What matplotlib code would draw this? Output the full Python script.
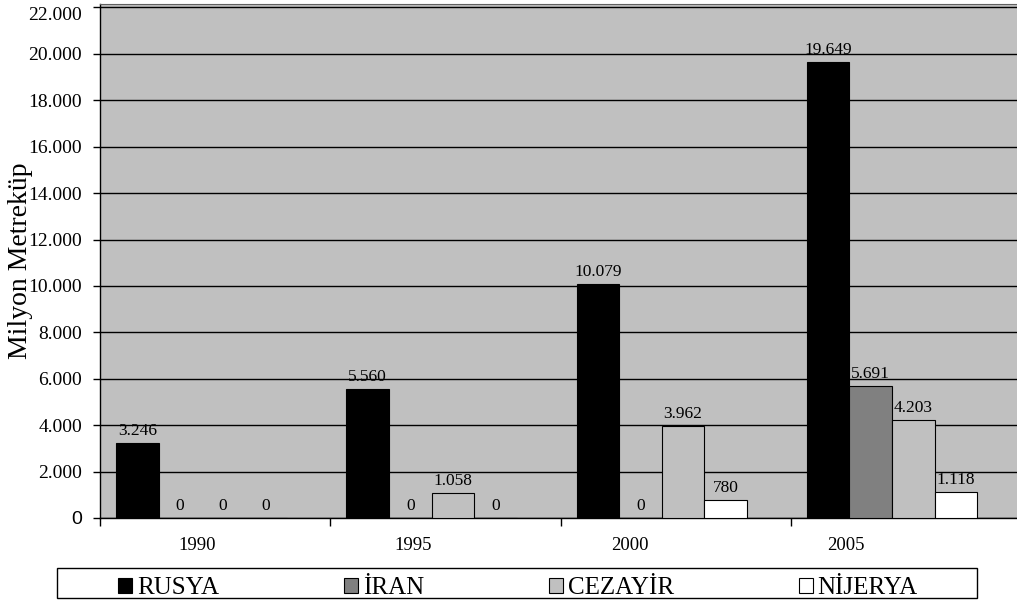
import matplotlib.pyplot as plt
from matplotlib.patches import Patch, Rectangle
import numpy as np

years = ['1990', '1995', '2000', '2005']
countries = ['RUSYA', 'İRAN', 'CEZAYİR', 'NİJERYA']
rusya = [3246, 5560, 10079, 19649]
iran = [0, 0, 0, 5691]
cezayir = [0, 1058, 3962, 4203]
nijerya = [0, 0, 780, 1118]
colors = ['#000000', '#808080', '#c0c0c0', '#ffffff']
yticks = list(range(0, 22001, 2000))

plt.rcParams['font.family'] = ['Liberation Serif', 'DejaVu Serif']


def dotted(v):
    return f"{v:,}".replace(",", ".")


fig = plt.figure(figsize=(10.17, 6.05), dpi=100)
ax = fig.add_axes([100 / 1017, 87 / 605, 921 / 1017, 514 / 605])
ax.set_facecolor('#c0c0c0')

x = np.arange(len(years))
w = 0.185
series = [rusya, iran, cezayir, nijerya]
for j, vals in enumerate(series):
    pos = x - 0.06 + (j - 1.5) * w
    bars = ax.bar(pos, vals, w, color=colors[j], edgecolor='black', linewidth=0.8, zorder=3)
    ax.bar_label(bars, labels=[dotted(v) for v in vals], padding=3, fontsize=12.5)

ax.set_xlim(-0.5, 3.5)
ax.set_ylim(0, 22150)
ax.set_yticks(yticks)
ax.set_yticklabels([dotted(v) for v in yticks], fontsize=14)
ax.get_yticklabels()[0].set_family('Liberation Sans')
ax.get_yticklabels()[-1].set_va('top')
ax.tick_params(axis='y', length=5, width=1, pad=8)
ax.grid(axis='y', color='black', linewidth=1, zorder=1)

# year labels sit a little left of the groups, like the original
ax.set_xticks(x * 0.94 - 0.08)
ax.set_xticklabels(years, fontsize=13.5)
ax.set_xticks(np.arange(-0.5, 4, 1), minor=True)
ax.tick_params(axis='x', which='major', length=0, pad=14)
ax.tick_params(axis='x', which='minor', length=6, width=1)

ax.spines['right'].set_visible(False)
ax.spines['top'].set_color('#606060')
ax.spines['left'].set_linewidth(1)
ax.spines['bottom'].set_linewidth(1)

ax.set_ylabel('Milyon Metreküp', fontsize=20)
ax.yaxis.set_label_coords(-67 / 921, 0.5)

handles = [Patch(facecolor=c, edgecolor='black', linewidth=0.8) for c in colors]
fig.legend(handles, countries, loc='center', bbox_to_anchor=(518 / 1017, 1 - 588 / 605),
           ncol=4, frameon=False, fontsize=18, handlelength=0.55, handleheight=0.55,
           handletextpad=0.2, columnspacing=5.0, borderpad=0)
fig.patches.append(Rectangle((57 / 1017, 7 / 605), 920 / 1017, 30 / 605, fill=False,
                             edgecolor='black', linewidth=1, transform=fig.transFigure))

plt.savefig('out.png', dpi=100)
